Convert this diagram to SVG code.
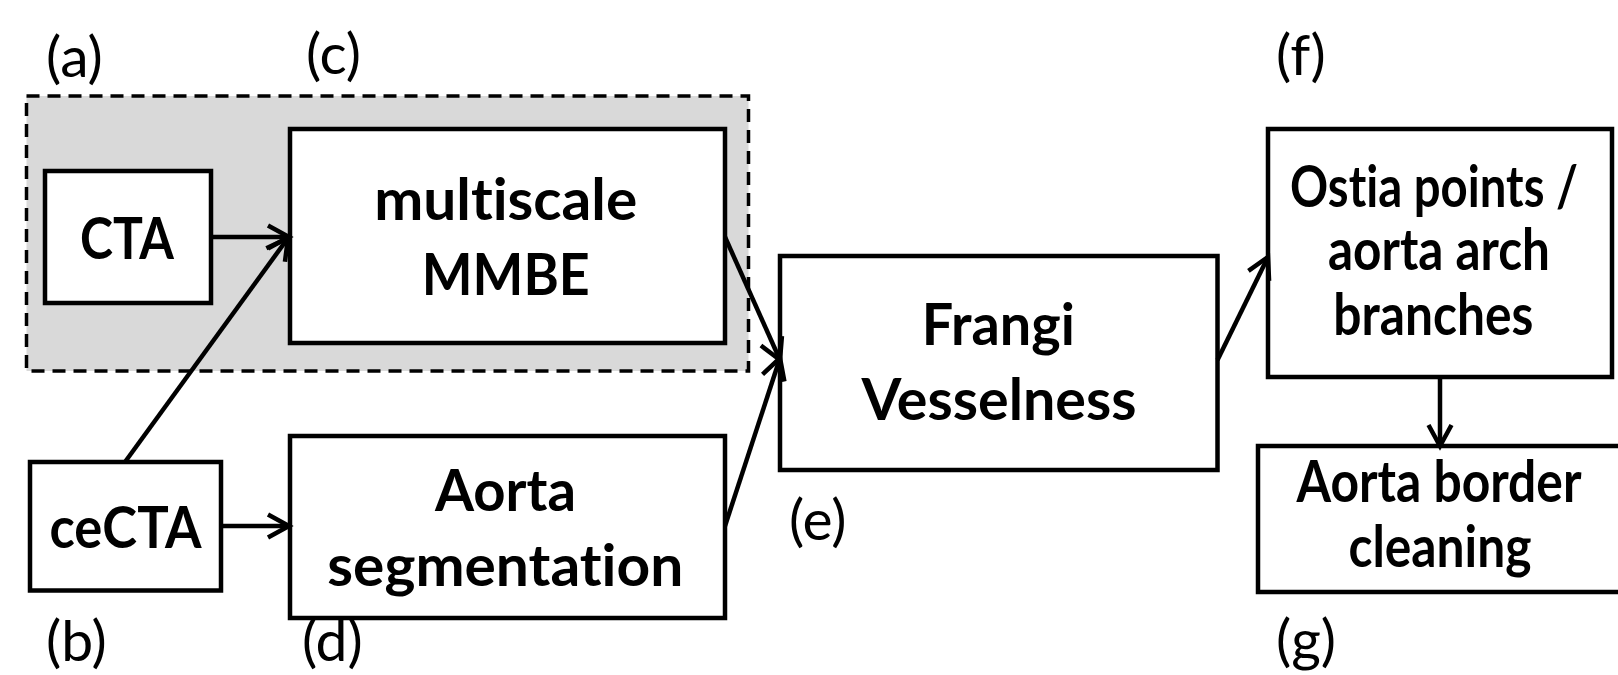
<svg xmlns="http://www.w3.org/2000/svg" width="1618" height="675" viewBox="0 0 1618 675">
<style>
.box{fill:#fff;stroke:#000;stroke-width:4.5}
.t{font-family:Lato,"Liberation Sans",sans-serif;font-weight:bold;font-size:57px;text-anchor:middle;fill:#000;font-variant-ligatures:none}
.lb{font-family:Lato,"Liberation Sans",sans-serif;font-size:57px;fill:#000}
.c{fill:none;stroke:#000;stroke-width:4.5;marker-end:url(#ah)}
</style>
<defs>
<marker id="ah" viewBox="0 0 28 28" refX="23" refY="14" markerWidth="28" markerHeight="28" markerUnits="userSpaceOnUse" orient="auto">
<path d="M2,2.5 L23,14 L2,25.5" fill="none" stroke="#000" stroke-width="4.5" stroke-linejoin="miter"/>
</marker>
</defs>
<rect width="1618" height="675" fill="#fff"/>
<g id="group-ac">
<rect x="26.5" y="96" width="722" height="275" fill="#d9d9d9" stroke="#000" stroke-width="3.5" stroke-dasharray="13 8"/>
</g>
<g id="cta"><rect class="box" x="45" y="171" width="166" height="132"/><text class="t" x="127" y="258.5" textLength="94" lengthAdjust="spacingAndGlyphs">CTA</text></g>
<g id="mmbe"><rect class="box" x="290" y="129" width="435" height="214"/><text class="t" x="505.7" y="220" textLength="263" lengthAdjust="spacingAndGlyphs">multiscale</text><text class="t" x="505.8" y="295" textLength="168" lengthAdjust="spacingAndGlyphs">MMBE</text></g>
<g id="cecta"><rect class="box" x="30" y="462" width="191" height="128.5"/><text class="t" x="125.5" y="548" textLength="152" lengthAdjust="spacingAndGlyphs">ceCTA</text></g>
<g id="aortaseg"><rect class="box" x="290" y="436" width="435" height="182"/><text class="t" x="505.5" y="511" textLength="141" lengthAdjust="spacingAndGlyphs">Aorta</text><text class="t" x="505.3" y="586" textLength="356" lengthAdjust="spacingAndGlyphs">segmentation</text></g>
<g id="frangi"><rect class="box" x="780" y="256" width="437.5" height="214"/><text class="t" x="998.3" y="345" textLength="153" lengthAdjust="spacingAndGlyphs">Frangi</text><text class="t" x="999" y="420" textLength="275" lengthAdjust="spacingAndGlyphs">Vesselness</text></g>
<g id="ostia"><rect class="box" x="1268" y="129" width="344" height="248"/><text class="t" x="1434" y="207" textLength="288" lengthAdjust="spacingAndGlyphs">Ostia points /</text><text class="t" x="1439" y="270" textLength="222" lengthAdjust="spacingAndGlyphs">aorta arch</text><text class="t" x="1433.3" y="335" textLength="200" lengthAdjust="spacingAndGlyphs">branches</text></g>
<g id="border"><rect class="box" x="1258" y="446" width="370" height="146"/><text class="t" x="1439" y="502" textLength="285" lengthAdjust="spacingAndGlyphs">Aorta border</text><text class="t" x="1440" y="566.5" textLength="183" lengthAdjust="spacingAndGlyphs">cleaning</text></g>
<g id="labels">
<text class="lb" x="46" y="77">(a)</text>
<text class="lb" x="306" y="74">(c)</text>
<text class="lb" x="46" y="661">(b)</text>
<text class="lb" x="302" y="661">(d)</text>
<text class="lb" x="789" y="540">(e)</text>
<text class="lb" x="1276" y="75">(f)</text>
<text class="lb" x="1276" y="660">(g)</text>
</g>
<g id="connectors">
<path class="c" d="M211,237 L289,237"/>
<path class="c" d="M125,462 L288,238"/>
<path class="c" d="M221,526 L289,526"/>
<path class="c" d="M725,237 L780,360"/>
<path class="c" d="M725,526 L780,358"/>
<path class="c" d="M1217.5,360 L1268,257"/>
<path class="c" d="M1440,377 L1440,446"/>
</g>
</svg>
